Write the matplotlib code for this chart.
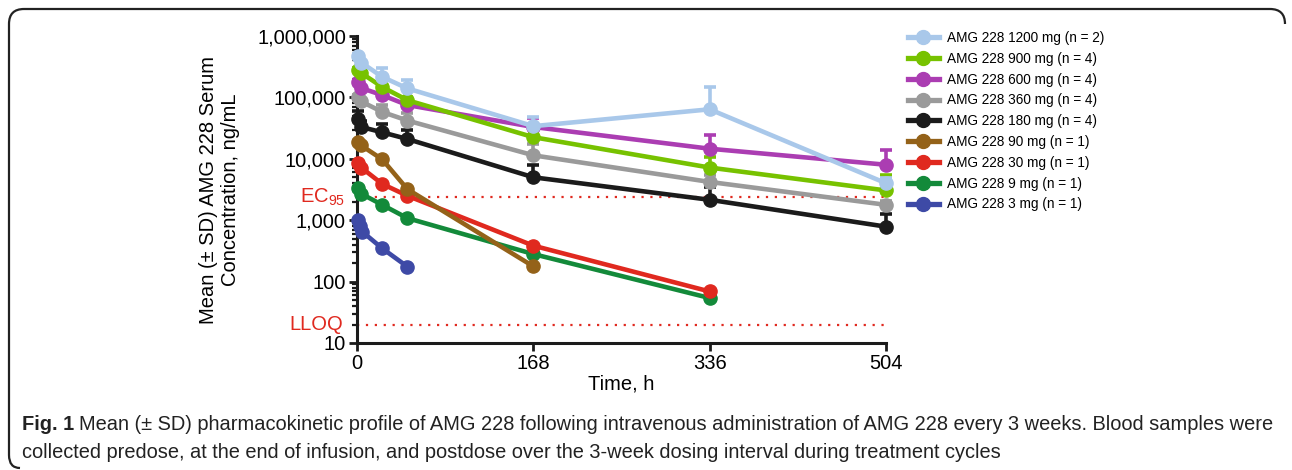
import numpy as np
import matplotlib.pyplot as plt
from matplotlib.ticker import FuncFormatter, LogLocator, NullFormatter
from matplotlib.path import Path
from matplotlib.patches import PathPatch
from matplotlib.lines import Line2D
from matplotlib.transforms import blended_transform_factory

plt.rcParams['font.family'] = ['Liberation Sans', 'DejaVu Sans']
plt.rcParams['mathtext.fontset'] = 'custom'
plt.rcParams['mathtext.rm'] = 'Liberation Sans'

W, H = 1292, 470

# ---- data (time in h, concentration in ng/mL) ----
doses = ['AMG 228 1200 mg (n = 2)', 'AMG 228 900 mg (n = 4)', 'AMG 228 600 mg (n = 4)',
         'AMG 228 360 mg (n = 4)', 'AMG 228 180 mg (n = 4)', 'AMG 228 90 mg (n = 1)',
         'AMG 228 30 mg (n = 1)', 'AMG 228 9 mg (n = 1)', 'AMG 228 3 mg (n = 1)']
colors = ['#a9c8ea', '#77c200', '#ab3db2', '#9a9a9a', '#1b1b1b',
          '#946219', '#e0291f', '#138a3a', '#3e4aa6']

t_full = [1, 4, 24, 48, 168, 336, 504]
t_168 = [1, 4, 24, 48, 168]
t_336 = [1, 4, 24, 48, 168, 336]
t_3mg = [1, 3, 5, 24, 48]

c_1200 = [480000, 370000, 216000, 140000, 34000, 64000, 4000]
sd_1200 = [30000, 20000, 80000, 50000, 14000, 84000, 800]
c_900 = [280000, 250000, 148000, 90000, 22500, 7200, 3050]
sd_900 = [20000, 15000, 15000, 10000, 8000, 3500, 2500]
c_600 = [180000, 142000, 109000, 75000, 33000, 14600, 8000]
sd_600 = [15000, 10000, 10000, 10000, 14000, 10000, 6000]
c_360 = [100000, 86000, 58000, 42000, 11400, 4200, 1780]
sd_360 = [10000, 8000, 17000, 13000, 6300, 1200, 300]
c_180 = [44000, 33000, 27000, 21000, 5000, 2150, 785]
sd_180 = [15000, 8000, 10000, 9000, 3000, 1350, 490]
c_90 = [19000, 16500, 9800, 3200, 177]
c_30 = [8700, 7200, 3900, 2500, 385, 69]
c_9 = [3300, 2700, 1780, 1080, 281, 54]
c_3 = [1000, 800, 650, 348, 175]

series = [
    (t_full, c_1200, sd_1200),
    (t_full, c_900, sd_900),
    (t_full, c_600, sd_600),
    (t_full, c_360, sd_360),
    (t_full, c_180, sd_180),
    (t_168, c_90, None),
    (t_336, c_30, None),
    (t_336, c_9, None),
    (t_3mg, c_3, None),
]

ec95 = 2400
lloq = 20

fig = plt.figure(figsize=(W / 100, H / 100), dpi=100)
ax = fig.add_axes([357 / W, 1 - 343 / H, (886 - 357) / W, (343 - 36) / H])

# low doses first so the high doses sit on top
for i in reversed(range(len(series))):
    t, c, sd = series[i]
    if sd is not None:
        yerr = [np.zeros(len(sd)), np.array(sd)]
    else:
        yerr = None
    ax.errorbar(t, c, yerr=yerr, fmt='-o', color=colors[i], lw=3.3, ms=9.5,
                capsize=4.5, capthick=2.6, elinewidth=2.6,
                zorder=3 + (len(series) - i) * 0.1)

for ln in ax.get_lines():
    ln.set_clip_on(False)
for col in ax.collections:
    col.set_clip_on(False)

ax.axhline(ec95, color='#e0291f', lw=1.6, ls=(0, (1, 3)), zorder=2)
ax.axhline(lloq, color='#e0291f', lw=1.6, ls=(0, (1, 3)), zorder=2)

ax.set_yscale('log')
ax.set_ylim(10, 1e6)
ax.set_xlim(0, 504)
ax.set_xticks([0, 168, 336, 504])
ax.yaxis.set_major_locator(LogLocator(base=10, numticks=10))
ax.yaxis.set_minor_locator(LogLocator(base=10, subs=np.arange(2, 10), numticks=20))
ax.yaxis.set_minor_formatter(NullFormatter())
ax.yaxis.set_major_formatter(FuncFormatter(lambda v, p: f'{int(round(v)):,}'))

for s in ['top', 'right']:
    ax.spines[s].set_visible(False)
for s in ['left', 'bottom']:
    ax.spines[s].set_linewidth(2.2)
    ax.spines[s].set_color('#1b1b1b')

ax.tick_params(axis='both', which='major', direction='out', length=6, width=2,
               labelsize=14.5, pad=2, color='#1b1b1b')
ax.tick_params(axis='y', which='minor', direction='out', length=3.5, width=1.6,
               color='#1b1b1b')
ax.set_xlabel('Time, h', fontsize=14.5, labelpad=1)
ax.set_ylabel('Mean (± SD) AMG 228 Serum\nConcentration, ng/mL', fontsize=14.5,
              labelpad=12, linespacing=1.25)

tr = blended_transform_factory(fig.transFigure, ax.transData)
fig.text(345 / W, ec95, r'EC$_{95}$', transform=tr, ha='right', va='center',
         color='#e0291f', fontsize=14.5)
fig.text(343 / W, lloq, 'LLOQ', transform=tr, ha='right', va='center',
         color='#e0291f', fontsize=14.5)

# legend: line with a dot, in the original order
leg_handles = [Line2D([], [], color=c, lw=3.8, marker='o', ms=10) for c in colors]
fig.legend(leg_handles, doses, loc='upper left',
           bbox_to_anchor=(908 / W, 1 - 31 / H), frameon=False,
           fontsize=9.8, handlelength=2.25, handletextpad=0.6,
           labelspacing=0.5, borderpad=0, borderaxespad=0)

# rounded frame around the figure panel
def fx(x):
    return x / W

def fy(y):
    return 1 - y / H

verts = [(fx(1285), fy(24)), (fx(1285), fy(9)), (fx(1270), fy(9)),
         (fx(24), fy(9)),
         (fx(9), fy(9)), (fx(9), fy(24)),
         (fx(9), fy(455)),
         (fx(9), fy(468)), (fx(20), fy(468))]
codes = [Path.MOVETO, Path.CURVE3, Path.CURVE3, Path.LINETO,
         Path.CURVE3, Path.CURVE3, Path.LINETO, Path.CURVE3, Path.CURVE3]
fig.add_artist(PathPatch(Path(verts, codes), transform=fig.transFigure,
                         fill=False, lw=1.6, ec='#222222'))

# caption
cap_font = ['Liberation Sans Narrow', 'Liberation Sans', 'DejaVu Sans']
line1 = ('Mean (± SD) pharmacokinetic profile of AMG 228 following intravenous '
         'administration of AMG 228 every 3 weeks. Blood samples were')
line2 = ('collected predose, at the end of infusion, and postdose over the 3-week '
         'dosing interval during treatment cycles')
fs = 13
renderer = fig.canvas.get_renderer()
b = fig.text(fx(22), fy(424), 'Fig. 1', fontsize=fs, fontweight='bold',
             family=cap_font, va='center', color='#222222')
bw = b.get_window_extent(renderer).width
r1 = fig.text(fx(22) + (bw + 5) / W, fy(424), line1, fontsize=fs,
              family=cap_font, va='center', color='#222222')
w1 = r1.get_window_extent(renderer).x1 - 22
fs2 = fs * 1250 / w1
b.set_fontsize(fs2)
bw = b.get_window_extent(renderer).width
r1.set_fontsize(fs2)
r1.set_x(fx(22) + (bw + 5) / W)
fig.text(fx(22), fy(452), line2, fontsize=fs2, family=cap_font, va='center',
         color='#222222')

fig.savefig('out.png', dpi=100)
